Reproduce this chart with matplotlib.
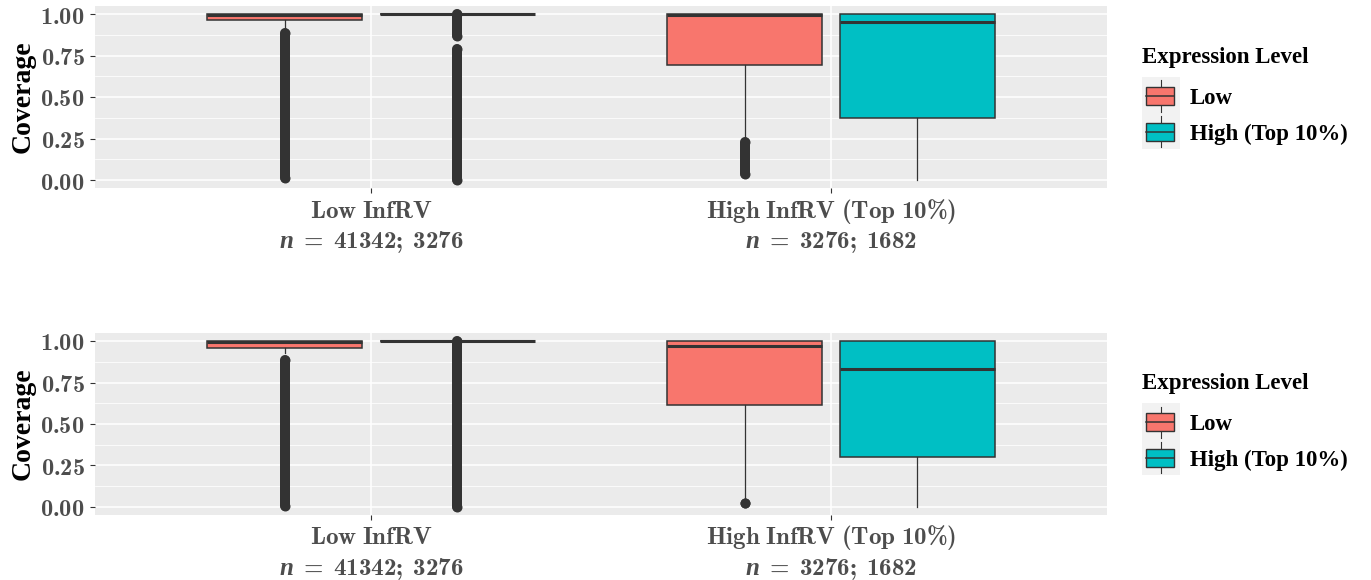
import matplotlib
matplotlib.use("Agg")
import matplotlib.pyplot as plt
from matplotlib.patches import Rectangle

plt.rcParams['mathtext.fontset'] = 'custom'
plt.rcParams['mathtext.rm'] = 'cmb10'
plt.rcParams['mathtext.bf'] = 'cmb10'
plt.rcParams['mathtext.it'] = 'Liberation Serif:italic:bold'

# ---------------- data ----------------
groups = ["Low InfRV", "High InfRV (Top 10%)"]
n_counts = [("41342", "3276"), ("3276", "1682")]
levels = ["Low", "High (Top 10%)"]
level_colors = ["#F8766D", "#00BFC4"]

# box stats per panel: [group][level] -> (whislo, q1, med, q3, whishi)
panel1_stats = [
    [(0.915, 0.962, 0.995, 1.0, 1.0), (1.0, 1.0, 1.0, 1.0, 1.0)],
    [(0.24, 0.69, 0.993, 1.0, 1.0), (0.0, 0.372, 0.951, 1.0, 1.0)],
]
panel2_stats = [
    [(0.93, 0.96, 0.995, 1.0, 1.0), (1.0, 1.0, 1.0, 1.0, 1.0)],
    [(0.035, 0.614, 0.972, 1.0, 1.0), (0.0, 0.302, 0.831, 1.0, 1.0)],
]
# outlier extents (dense columns of points): [group][level] -> list of (low, high)
panel1_outliers = [
    [[(0.01, 0.885)], [(0.0, 0.79), (0.865, 1.0)]],
    [[(0.036, 0.228)], []],
]
panel2_outliers = [
    [[(0.005, 0.885)], [(0.0, 1.0)]],
    [[(0.024, 0.024)], []],
]
y_ticks = [0.0, 0.25, 0.5, 0.75, 1.0]
y_minor = [0.125, 0.375, 0.625, 0.875]
y_ticklabels = ["0.00", "0.25", "0.50", "0.75", "1.00"]

# ---------------- layout ----------------
W, H = 1371, 580
fig = plt.figure(figsize=(W / 100, H / 100), dpi=100)


def px_axes(l, t, r, b):
    return fig.add_axes([l / W, 1 - b / H, (r - l) / W, (b - t) / H])


EDGE = "#333333"
SERIF = ["Liberation Serif", "DejaVu Serif"]
dodge = 0.1875
box_w = 0.3375


def mrm(s):
    return r"$\mathrm{%s}$" % s.replace(" ", r"\ ").replace("%", r"\%")


def draw_panel(ax, stats, outliers):
    ax.set_facecolor("#EBEBEB")
    for s in ax.spines.values():
        s.set_visible(False)
    ax.set_xlim(0.4, 2.6)
    ax.set_ylim(-0.05, 1.05)
    ax.set_yticks(y_ticks)
    ax.set_yticks(y_minor, minor=True)
    ax.set_yticklabels([mrm(t) for t in y_ticklabels], fontsize=17.5)
    ax.set_xticks([1, 2])
    ax.set_xticklabels([])
    for i, (g, n) in enumerate(zip(groups, n_counts)):
        for txt, dy in ((mrm(g), -29.2 * 0.72), (r"$n\ =\ %s;\ %s$" % n, -59.7 * 0.72)):
            ax.annotate(txt, xy=(i + 1, 0), xycoords=("data", "axes fraction"),
                        xytext=(0, dy), textcoords="offset points",
                        ha="center", va="baseline", fontsize=18, color="#4D4D4D",
                        annotation_clip=False)
    ax.grid(True, which="major", color="white", lw=1.1)
    ax.grid(True, which="minor", axis="y", color="white", lw=0.55)
    ax.set_axisbelow(True)
    ax.tick_params(axis="both", which="major", color=EDGE, length=3.5,
                   width=0.8, labelcolor="#4D4D4D")
    ax.tick_params(axis="y", which="minor", length=0)
    ax.tick_params(axis="y", pad=4)
    for gi in range(len(groups)):
        for li in range(len(levels)):
            lo, q1, med, q3, hi = stats[gi][li]
            pos = gi + 1 + (li - 0.5) * 2 * dodge
            ax.bxp([dict(whislo=lo, q1=q1, med=med, q3=q3, whishi=hi, fliers=[])],
                   positions=[pos], widths=box_w, patch_artist=True,
                   showfliers=False, showcaps=False, manage_ticks=False,
                   boxprops=dict(facecolor=level_colors[li], edgecolor=EDGE, lw=1.1),
                   medianprops=dict(color=EDGE, lw=2.2),
                   whiskerprops=dict(color=EDGE, lw=0.9))
            for a, b in outliers[gi][li]:
                ax.plot([pos, pos], [a, b], color=EDGE, lw=7.2,
                        solid_capstyle="round", marker="o", ms=7.2,
                        markeredgewidth=0, zorder=3)


def draw_legend(off):
    fig.text(1142 / W, 1 - (63 + off) / H, "Expression Level", fontsize=16.5,
             fontweight="bold", family=SERIF, va="baseline", ha="left")
    lax = px_axes(1141.5, 76.7 + off, 1179.5, 149 + off)
    lax.set_xlim(0, 38)
    lax.set_ylim(72.3, 0)
    lax.axis("off")
    lax.add_patch(Rectangle((0, 0), 38, 72.3, facecolor="#F2F2F2", edgecolor="none"))
    for li, (lab, col) in enumerate(zip(levels, level_colors)):
        c = 19.3 + li * 35.7
        lax.plot([19, 19], [c - 15.5, c + 15.5], color=EDGE, lw=0.8)
        lax.add_patch(Rectangle((4.5, c - 9.2), 28, 18.4, facecolor=col,
                                edgecolor=EDGE, lw=1.0, zorder=3))
        lax.plot([4.5, 32.5], [c, c], color=EDGE, lw=1.1, zorder=4)
        fig.text(1190 / W, 1 - (104 + li * 35.7 + off) / H, lab, fontsize=16.5,
                 fontweight="bold", family=SERIF, va="baseline", ha="left")


def ylabel(top, bot):
    fig.text(23 / W, 1 - ((top + bot) / 2) / H, "Coverage", rotation=90,
             fontsize=20, fontweight="bold", family=SERIF, ha="center", va="center")


ax1 = px_axes(95, 5.7, 1107, 188.3)
draw_panel(ax1, panel1_stats, panel1_outliers)
ylabel(5.7, 188.3)
draw_legend(0)

ax2 = px_axes(95, 332.7, 1107, 515.3)
draw_panel(ax2, panel2_stats, panel2_outliers)
ylabel(332.7, 515.3)
draw_legend(326)

fig.savefig("out.png", dpi=100)
